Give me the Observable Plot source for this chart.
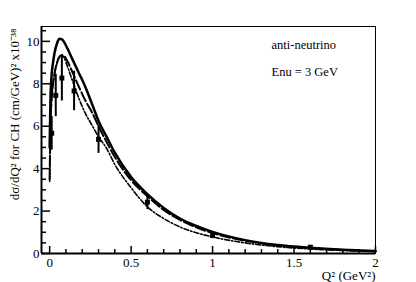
<!DOCTYPE html>
<html><head><meta charset="utf-8">
<script src="https://cdn.jsdelivr.net/npm/d3@7"></script>
<script src="https://cdn.jsdelivr.net/npm/@observablehq/plot@0.6"></script>
<style>body{margin:0;background:#fff} svg text{font-family:"Liberation Serif","Times New Roman",serif}</style>
</head><body><div id="chart"></div>
<script>
// Data points (anti-neutrino on CH)
const q2Points = [0.0125, 0.0375, 0.075, 0.15, 0.3, 0.6, 1.0, 1.6];
const xsecPoints = [5.67, 7.45, 8.27, 7.66, 5.38, 2.42, 0.85, 0.30];
const xsecErrors = [0.80, 1.00, 1.08, 0.93, 0.66, 0.35, 0.15, 0.06];

// Model curves
const curveQ2 = [0, 0.005, 0.01, 0.02, 0.03, 0.045, 0.06, 0.075, 0.09, 0.11, 0.14, 0.18, 0.22, 0.26, 0.3, 0.35, 0.4, 0.5, 0.6, 0.7, 0.8, 0.9, 1.0, 1.2, 1.4, 1.6, 1.8, 2.0];
const solidCurve = [5.0, 7.3, 8.2, 8.95, 9.45, 9.9, 10.12, 10.1, 9.95, 9.65, 9.15, 8.5, 7.84, 7.05, 6.25, 5.5, 4.75, 3.6, 2.8, 2.15, 1.65, 1.3, 1.02, 0.63, 0.4, 0.27, 0.18, 0.12];
const dashedCurve = [3.5, 6.2, 7.0, 7.95, 8.5, 9.0, 9.28, 9.35, 9.3, 9.05, 8.55, 7.85, 7.2, 6.65, 6.0, 5.25, 4.55, 3.45, 2.7, 2.05, 1.58, 1.23, 0.96, 0.6, 0.38, 0.25, 0.17, 0.11];
const dashDotCurve = [3.4, 6.2, 7.0, 7.95, 8.45, 8.95, 9.25, 9.34, 9.2, 8.8, 8.15, 7.3, 6.59, 6.05, 5.5, 4.95, 4.2, 3.1, 2.2, 1.65, 1.25, 0.98, 0.78, 0.5, 0.32, 0.21, 0.14, 0.09];

// Ticks
const xMajorTicks = [0, 0.5, 1, 1.5, 2];
const xMinorTicks = [0.1, 0.2, 0.3, 0.4, 0.6, 0.7, 0.8, 0.9, 1.1, 1.2, 1.3, 1.4, 1.6, 1.7, 1.8, 1.9];
const yMajorTicks = [0, 2, 4, 6, 8, 10];
const yMinorTicks = [0.5, 1, 1.5, 2.5, 3, 3.5, 4.5, 5, 5.5, 6.5, 7, 7.5, 8.5, 9, 9.5, 10.5];

const xLabel = "Q² (GeV²)";
const yLabel = "dσ/dQ² for CH (cm/GeV)² x10⁻³⁸";
const notes = ["anti-neutrino", "Enu = 3 GeV"];

const points = q2Points.map((q, i) => ({q, y: xsecPoints[i], e: xsecErrors[i]}));
const curves = curveQ2.map((q, i) => ({q, s: solidCurve[i], d: dashedCurve[i], dd: dashDotCurve[i]}));

const chart = Plot.plot({
  width: 416, height: 282,
  marginLeft: 41, marginRight: 41, marginTop: 26, marginBottom: 29,
  style: {fontFamily: "Liberation Serif, Times New Roman, serif", fontSize: "13px", color: "#000", background: "#fff"},
  x: {domain: [-0.05, 2]},
  y: {domain: [0, 10.7]},
  marks: [
    Plot.frame({stroke: "#000", strokeWidth: 1}),
    Plot.ruleX([-0.05], {strokeWidth: 2}),
    Plot.ruleY([0], {strokeWidth: 2}),
    // inward ticks
    Plot.axisX({ticks: xMajorTicks, tickSize: -7, tickFormat: () => "", strokeWidth: 1.5, label: null}),
    Plot.axisX({ticks: xMinorTicks, tickSize: -4, tickFormat: () => "", strokeWidth: 1.5, label: null}),
    Plot.axisY({ticks: yMajorTicks, tickSize: -9, tickFormat: () => "", strokeWidth: 1.5, label: null}),
    Plot.axisY({ticks: yMinorTicks, tickSize: -5, tickFormat: () => "", strokeWidth: 1.5, label: null}),
    // labels
    Plot.axisX({ticks: xMajorTicks, tickSize: 0, tickPadding: 4, tickFormat: d => String(d), fontSize: 13, label: null}),
    Plot.axisY({ticks: yMajorTicks, tickSize: 0, tickPadding: 2, tickFormat: d => String(d), fontSize: 13, label: null}),
    // curves
    Plot.line(curves, {x: "q", y: "s", stroke: "#000", strokeWidth: 2.5, curve: "monotone-x"}),
    Plot.line(curves, {x: "q", y: "d", stroke: "#000", strokeWidth: 2, strokeDasharray: "10,3", curve: "monotone-x"}),
    Plot.line(curves, {x: "q", y: "dd", stroke: "#000", strokeWidth: 1.6, strokeDasharray: "5,2,1.5,2", curve: "monotone-x"}),
    // data
    Plot.ruleX(points, {x: "q", y1: d => d.y - d.e, y2: d => d.y + d.e, stroke: "#000", strokeWidth: 2}),
    Plot.dot(points, {x: "q", y: "y", symbol: "square", r: 2.8, fill: "#000", stroke: "none"}),
    // titles
    Plot.text([xLabel], {frameAnchor: "bottom-right", dy: 26, lineAnchor: "bottom", textAnchor: "end", fontSize: 13}),
    Plot.text([yLabel], {frameAnchor: "top-left", dx: -27, dy: 2, rotate: -90, textAnchor: "end", lineAnchor: "middle", fontSize: 13}),
    Plot.text([notes[0]], {frameAnchor: "top-left", dx: 230, dy: 22, lineAnchor: "bottom", textAnchor: "start", fontSize: 12.5}),
    Plot.text([notes[1]], {frameAnchor: "top-left", dx: 230, dy: 49, lineAnchor: "bottom", textAnchor: "start", fontSize: 12.5})
  ]
});
document.getElementById("chart").appendChild(chart);
</script>
</body></html>
